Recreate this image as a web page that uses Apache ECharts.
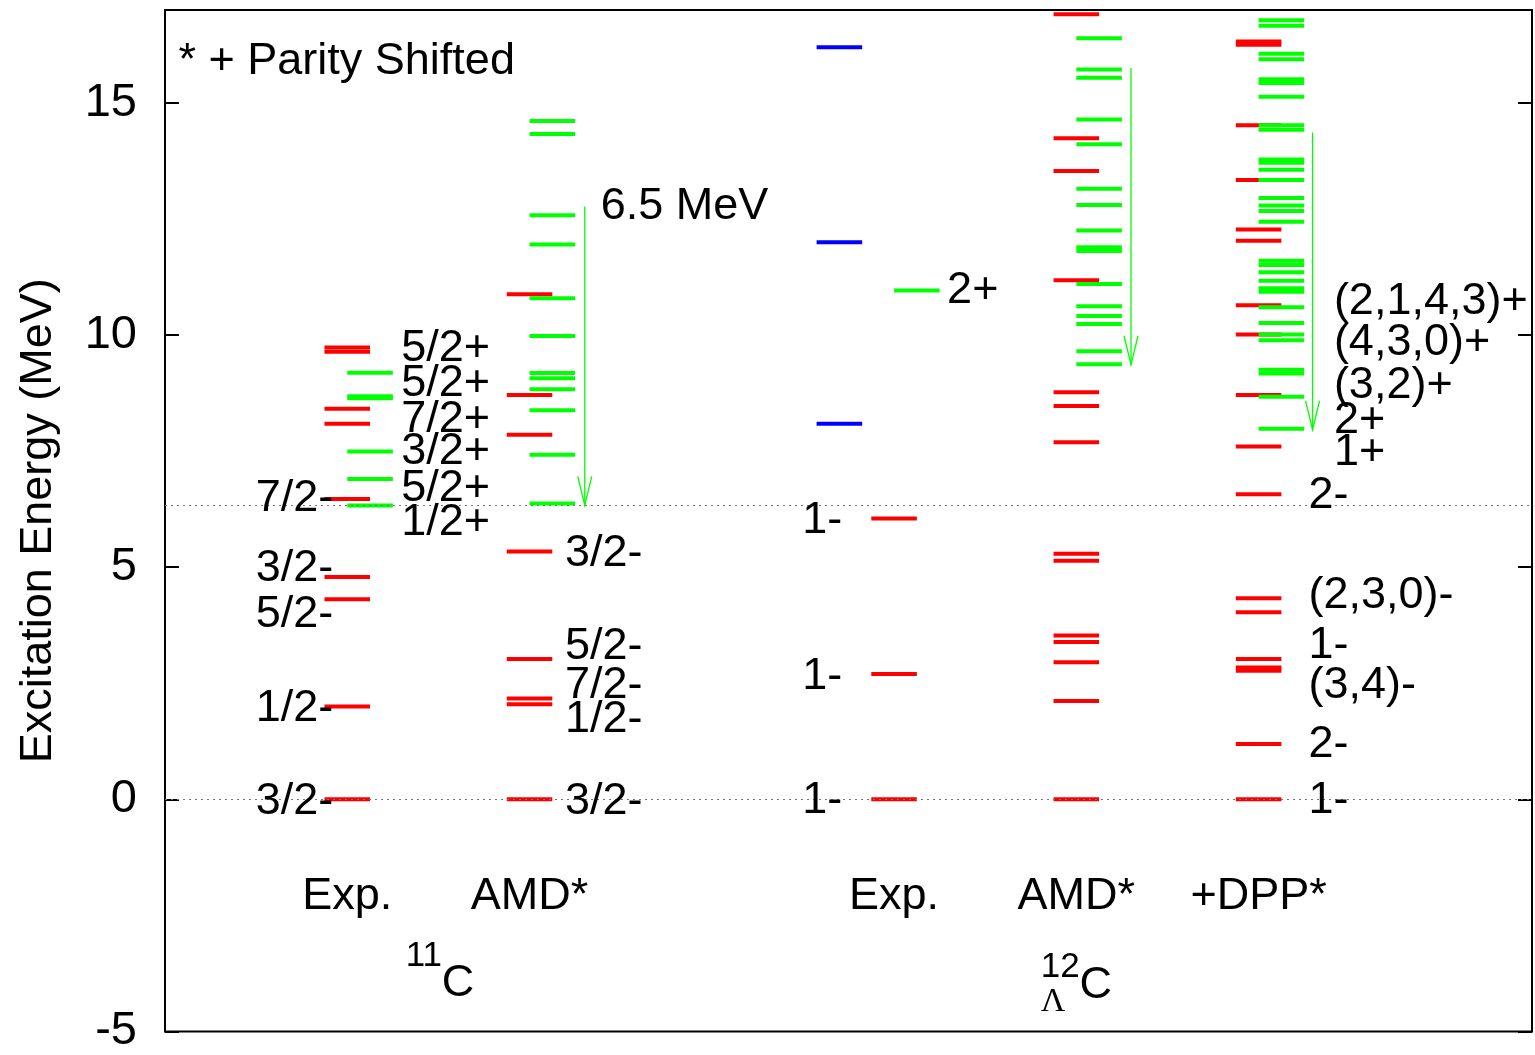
<!DOCTYPE html>
<html><head><meta charset="utf-8">
<script src="https://cdn.jsdelivr.net/npm/echarts@6/dist/echarts.min.js"></script>
<style>html,body{margin:0;padding:0;background:#fff}#c{width:1535px;height:1055px}</style>
</head><body><div id="c"></div>
<script>
// ---------------- DATA (MeV) ----------------
// column positions on the x axis
const colX = { c11Exp: 1, c11AMD: 2, c12Blue: 3.7, c12Exp: 4, c12AMD: 5, c12DPP: 6 };

// 11C experiment
const c11ExpNeg = [0, 2.00, 4.31, 4.79, 6.47, 8.09, 8.41, 9.64, 9.73];
const c11ExpPos = [6.33, 6.90, 7.49, 8.64, 8.68, 9.19];
// 11C AMD (positive parity shifted)
const c11AMDNeg = [0, 2.05, 2.17, 3.02, 5.34, 7.85, 8.71, 10.88];
const c11AMDPos = [6.37, 7.42, 8.38, 8.83, 9.07, 9.18, 9.98, 10.79, 11.95, 12.58, 14.33, 14.61];
// 12C_Lambda experiment
const c12ExpBlue = [8.09, 12.00, 16.20];
const c12ExpNeg = [0, 2.70, 6.05];
const c12ExpPos = [10.96];
// 12C_Lambda AMD
const c12AMDNeg = [0, 2.12, 2.95, 3.39, 3.53, 5.14, 5.29, 7.69, 8.47, 8.77, 11.18, 13.53, 14.24, 16.91];
const c12AMDPos = [9.37, 9.65, 10.24, 10.41, 10.62, 11.10, 11.81, 11.89, 12.25, 12.80, 13.15, 14.11, 14.64, 15.54, 15.72, 16.39];
// 12C_Lambda AMD + DPP
const c12DPPNeg = [0, 1.19, 2.77, 2.84, 3.02, 4.03, 4.33, 6.57, 7.60, 8.71, 10.01, 10.64, 12.03, 12.27, 13.34, 14.52, 16.25, 16.32];
const c12DPPPos = [7.98, 8.67, 9.17, 9.25, 9.89, 10.01, 10.26, 10.60, 10.93, 11.01, 11.17, 11.35, 11.51, 11.60,
  12.44, 12.67, 12.79, 12.95, 13.34, 13.56, 13.71, 13.78, 14.42, 14.52, 15.13, 15.43, 15.51, 15.94, 16.06, 16.66, 16.78];

// shift arrows: [x, from E, to E]
const shiftArrows = [[2.303, 12.77, 6.33], [5.30, 15.75, 9.36], [6.296, 14.36, 7.96]];
// dotted reference lines
const refLines = [0, 6.33];

// spin-parity labels: [E, text]
const spin11ExpLeft = [[6.47, '7/2-'], [4.98, '3/2-'], [3.97, '5/2-'], [1.95, '1/2-'], [-0.04, '3/2-']];
const spin11ExpRight = [[9.71, '5/2+'], [8.95, '5/2+'], [8.17, '7/2+'], [7.50, '3/2+'], [6.69, '5/2+'], [5.97, '1/2+']];
const spin11AMD = [[5.30, '3/2-'], [3.28, '5/2-'], [2.45, '7/2-'], [1.72, '1/2-'], [-0.04, '3/2-']];
const spin12ExpLeft = [[6.01, '1-'], [2.64, '1-'], [-0.02, '1-']];
const spin12ExpRight = [[10.95, '2+']];
const spin12DPPMinus = [[6.55, '2-'], [4.38, '(2,3,0)-'], [3.31, '1-'], [2.45, '(3,4)-'], [1.18, '2-'], [-0.02, '1-']];
const spin12DPPPlus = [[10.73, '(2,1,4,3)+'], [9.83, '(4,3,0)+'], [8.91, '(3,2)+'], [8.16, '2+'], [7.46, '1+']];
const shiftText = [[12.76, '6.5 MeV']];
const noteText = [[15.88, '* + Parity Shifted']];
const columnNames = [[colX.c11Exp, 'Exp.'], [colX.c11AMD, 'AMD*'], [colX.c12Exp, 'Exp.'], [colX.c12AMD, 'AMD*'], [colX.c12DPP, '+DPP*']];
const columnNameE = -2.10;
const yTicks = [-5, 0, 5, 10, 15];

// ---------------- STYLE ----------------
const FONT = '"Liberation Sans", Arial, Helvetica, sans-serif';
const FS = 45;
const RED = '#ff0000', GREEN = '#00ff00', BLUE = '#0000ff';
const HALF = 0.125;

function levelSeries(name, x, energies, color, dx0, dx1, z) {
  return {
    type: 'custom', name, z,
    data: energies.map(e => [x, e]),
    encode: { x: 0, y: 1 },
    silent: true,
    renderItem: function (params, api) {
      const xv = api.value(0), e = api.value(1);
      const a = api.coord([xv + dx0, e]), b = api.coord([xv + dx1, e]);
      return { type: 'line', shape: { x1: a[0], y1: a[1], x2: b[0], y2: b[1] },
        style: { stroke: color, lineWidth: 4 } };
    }
  };
}

function textSeries(x, items, align, fs) {
  return {
    type: 'custom', z: 5, silent: true,
    data: items.map(it => [x, it[0]]),
    encode: { x: 0, y: 1 },
    renderItem: function (params, api) {
      const p = api.coord([api.value(0), api.value(1)]);
      return { type: 'text', x: p[0], y: p[1],
        style: { text: items[params.dataIndex][1], fill: '#000', font: (fs || FS) + 'px ' + FONT,
          textAlign: align, textVerticalAlign: 'middle' } };
    }
  };
}

const series = [];
// reference dotted lines (under everything)
series.push({
  type: 'line', data: [], z: 1, silent: true,
  markLine: { silent: true, symbol: 'none', label: { show: false },
    lineStyle: { type: [2, 4], color: '#777', width: 1 },
    data: refLines.map(v => ({ yAxis: v })) }
});
series.push(levelSeries('11C Exp -', colX.c11Exp, c11ExpNeg, RED, -HALF, HALF, 2));
series.push(levelSeries('11C AMD -', colX.c11AMD, c11AMDNeg, RED, -HALF, HALF, 2));
series.push(levelSeries('12C Exp -', colX.c12Exp, c12ExpNeg, RED, -HALF, HALF, 2));
series.push(levelSeries('12C AMD -', colX.c12AMD, c12AMDNeg, RED, -HALF, HALF, 2));
series.push(levelSeries('12C DPP -', colX.c12DPP, c12DPPNeg, RED, -HALF, HALF, 2));
series.push(levelSeries('12C Exp blue', colX.c12Blue, c12ExpBlue, BLUE, -HALF, HALF, 2));
series.push(levelSeries('11C Exp +', colX.c11Exp, c11ExpPos, GREEN, 0, 2 * HALF, 3));
series.push(levelSeries('11C AMD +', colX.c11AMD, c11AMDPos, GREEN, 0, 2 * HALF, 3));
series.push(levelSeries('12C Exp +', colX.c12Exp, c12ExpPos, GREEN, 0, 2 * HALF, 3));
series.push(levelSeries('12C AMD +', colX.c12AMD, c12AMDPos, GREEN, 0, 2 * HALF, 3));
series.push(levelSeries('12C DPP +', colX.c12DPP, c12DPPPos, GREEN, 0, 2 * HALF, 3));

// arrows
series.push({
  type: 'custom', z: 4, silent: true,
  data: shiftArrows,
  encode: { x: 0, y: [1, 2] },
  renderItem: function (params, api) {
    const x = api.value(0);
    const a = api.coord([x, api.value(1)]), b = api.coord([x, api.value(2)]);
    return { type: 'group', children: [
      { type: 'line', shape: { x1: a[0], y1: a[1], x2: b[0], y2: b[1] }, style: { stroke: GREEN, lineWidth: 1.3 } },
      { type: 'polyline', shape: { points: [[b[0] - 7, b[1] - 29], [b[0], b[1]], [b[0] + 7, b[1] - 29]] },
        style: { stroke: GREEN, lineWidth: 1.3, fill: null } }
    ] };
  }
});

// labels
series.push(textSeries(0.923, spin11ExpLeft, 'right'));
series.push(textSeries(1.296, spin11ExpRight, 'left'));
series.push(textSeries(2.194, spin11AMD, 'left'));
series.push(textSeries(3.716, spin12ExpLeft, 'right'));
series.push(textSeries(4.291, spin12ExpRight, 'left'));
series.push(textSeries(6.274, spin12DPPMinus, 'left'));
series.push(textSeries(6.413, spin12DPPPlus, 'left'));
series.push(textSeries(2.391, shiftText, 'left'));
series.push(textSeries(0.074, noteText, 'left'));
series.push({
  type: 'custom', z: 5, silent: true,
  data: columnNames.map(c => [c[0], columnNameE]),
  encode: { x: 0, y: 1 },
  renderItem: function (params, api) {
    const p = api.coord([api.value(0), api.value(1)]);
    return { type: 'text', x: p[0], y: p[1],
      style: { text: columnNames[params.dataIndex][1], fill: '#000', font: FS + 'px ' + FONT,
        textAlign: 'center', textVerticalAlign: 'middle' } };
  }
});
// nucleus names
const nucleusNames = [[1.608, -3.97, '11', '', 'C'], [5.107, -4.01, '12', '\u039b', 'C']];
series.push({
  type: 'custom', z: 5, silent: true,
  data: nucleusNames.map(n => [n[0], n[1]]),
  encode: { x: 0, y: 1 },
  renderItem: function (params, api) {
    const n = nucleusNames[params.dataIndex];
    const p = api.coord([api.value(0), api.value(1)]);
    const kids = [
      { type: 'text', x: p[0], y: p[1], style: { text: n[4], fill: '#000', font: FS + 'px ' + FONT, textAlign: 'center', textVerticalAlign: 'middle' } }
    ];
    if (n[3]) {
      kids.push({ type: 'text', x: p[0] - 55, y: p[1] - 18, style: { text: n[2], fill: '#000', font: '35px ' + FONT, textAlign: 'left', textVerticalAlign: 'middle' } });
      kids.push({ type: 'text', x: p[0] - 55, y: p[1] + 17, style: { text: n[3], fill: '#000', font: '34px "Liberation Serif", serif', textAlign: 'left', textVerticalAlign: 'middle' } });
    } else {
      kids.push({ type: 'text', x: p[0] - 16, y: p[1] - 27, style: { text: n[2], fill: '#000', font: '35px ' + FONT, textAlign: 'right', textVerticalAlign: 'middle' } });
    }
    return { type: 'group', children: kids };
  }
});

const yCommon = {
  type: 'value', min: -5, max: 17, interval: 5,
  axisLine: { show: false }, splitLine: { show: false },
  axisTick: { show: true, inside: true, length: 14, lineStyle: { color: '#000', width: 2 }, customValues: yTicks }
};

const option = {
  animation: false,
  backgroundColor: '#fff',
  grid: { left: 165, right: 3, top: 10, bottom: 22, show: true, borderColor: '#000', borderWidth: 2, backgroundColor: 'transparent' },
  xAxis: { type: 'value', min: 0, max: 7.5, show: true, axisLine: { show: false }, axisTick: { show: false },
    axisLabel: { show: false }, splitLine: { show: false } },
  yAxis: [
    Object.assign({}, yCommon, {
      position: 'left',
      name: 'Excitation Energy (MeV)', nameLocation: 'middle', nameGap: 104, nameRotate: 90,
      nameTextStyle: { fontSize: FS, fontFamily: FONT, color: '#000' },
      axisLabel: { show: true, fontSize: 47, fontFamily: FONT, color: '#000', margin: 28, customValues: yTicks }
    }),
    Object.assign({}, yCommon, { position: 'right', axisLabel: { show: false } })
  ],
  series: series
};

const chart = echarts.init(document.getElementById('c'), null, { renderer: 'canvas' });
chart.setOption(option);
</script></body></html>
